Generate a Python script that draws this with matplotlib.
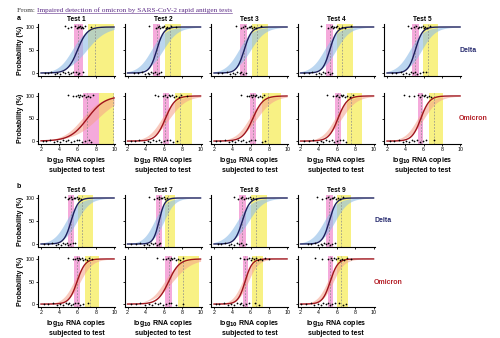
import numpy as np
import matplotlib.pyplot as plt
from matplotlib.lines import Line2D

plt.rcParams['font.family'] = ['Liberation Sans', 'DejaVu Sans']

tests = ['Test 1', 'Test 2', 'Test 3', 'Test 4', 'Test 5',
         'Test 6', 'Test 7', 'Test 8', 'Test 9']

# fitted logistic curves: 50% point and slope per test
delta_mid = [6.0, 5.2, 5.3, 5.2, 5.1, 5.3, 5.45, 5.1, 5.15]
delta_slope = [1.9, 2.6, 2.5, 2.6, 2.6, 2.6, 3.2, 2.5, 2.7]
omicron_mid = [7.07, 6.15, 6.25, 6.1, 5.7, 5.95, 6.5, 5.4, 5.25]
omicron_slope = [1.05, 1.9, 1.8, 2.0, 2.1, 2.3, 1.7, 2.6, 2.4]

# 95% confidence band, upper and lower logistic edges
delta_ci_hi_mid = [5.4, 4.6, 4.7, 4.6, 4.5, 4.75, 4.95, 4.55, 4.6]
delta_ci_hi_slope = [1.3, 1.35, 1.35, 1.35, 1.35, 1.4, 1.6, 1.3, 1.4]
delta_ci_lo_mid = [7.0, 5.9, 6.0, 5.9, 5.8, 5.95, 6.0, 5.8, 5.8]
delta_ci_lo_slope = [0.95, 1.25, 1.25, 1.35, 1.35, 1.4, 1.7, 1.25, 1.4]
omicron_ci_hi_mid = [6.5, 5.75, 5.85, 5.75, 5.35, 5.6, 6.05, 5.1, 4.95]
omicron_ci_hi_slope = [0.95, 1.3, 1.3, 1.4, 1.4, 1.6, 1.25, 1.8, 1.7]
omicron_ci_lo_mid = [8.2, 6.6, 6.7, 6.5, 6.05, 6.3, 6.95, 5.75, 5.6]
omicron_ci_lo_slope = [0.75, 1.1, 1.1, 1.2, 1.25, 1.5, 0.95, 1.8, 1.7]

# LOD50 / LOD95 confidence intervals and LOD95 estimates
delta_lod50_ci = [(5.6, 6.6), (4.76, 5.56), (4.85, 5.66), (4.79, 5.6), (4.7, 5.54),
                  (4.92, 5.65), (5.1, 5.75), (4.75, 5.5), (4.79, 5.52)]
delta_lod95_ci = [(7.1, 10.0), (6.05, 7.9), (6.2, 7.96), (6.0, 7.76), (5.98, 7.63),
                  (6.05, 7.66), (6.05, 7.2), (6.05, 7.79), (5.98, 7.48)]
delta_lod95 = [7.9, 6.7, 6.75, 6.57, 6.46, 6.5, 6.4, 6.58, 6.39]
omicron_lod50_ci = [(6.57, 8.39), (5.84, 6.54), (5.92, 6.65), (5.82, 6.45), (5.4, 5.98),
                    (5.64, 6.24), (6.11, 6.9), (5.13, 5.68), (4.98, 5.52)]
omicron_lod95_ci = [(8.39, 10.0), (7.24, 9.1), (7.25, 9.3), (7.1, 8.75), (6.64, 8.15),
                    (6.82, 8.33), (7.53, 9.86), (6.2, 7.34), (5.95, 7.25)]
omicron_lod95 = [9.86, 7.77, 7.9, 7.57, 7.12, 7.37, 8.08, 6.58, 6.39]

# log10 RNA copies of positive / negative test results
delta_pos = [
    [4.6, 5.0, 5.3, 5.7, 5.9, 6.0, 6.2, 6.3, 6.4, 6.5, 6.6, 6.8, 7.5],
    [4.3, 5.1, 5.3, 5.5, 5.6, 5.8, 5.9, 6.0, 6.2, 6.3, 6.5, 6.8, 7.3],
    [4.4, 4.9, 5.2, 5.4, 5.6, 5.8, 5.9, 6.1, 6.2, 6.4, 6.6, 7.1],
    [4.2, 5.0, 5.3, 5.4, 5.6, 5.7, 5.9, 6.0, 6.2, 6.5, 6.9, 7.5],
    [4.3, 4.6, 5.0, 5.2, 5.4, 5.5, 5.7, 5.9, 6.0, 6.2, 6.4, 6.7],
    [4.6, 4.9, 5.1, 5.3, 5.4, 5.6, 5.7, 5.9, 6.0, 6.2, 6.4],
    [4.4, 4.9, 5.2, 5.4, 5.5, 5.7, 5.8, 6.0, 6.1, 6.3],
    [4.2, 4.6, 4.9, 5.1, 5.3, 5.5, 5.7, 5.9, 6.1, 6.3, 6.6],
    [3.8, 4.4, 4.8, 5.0, 5.2, 5.4, 5.6, 5.7, 5.9, 6.1, 6.3, 6.7],
]
delta_neg = [
    [2.4, 2.8, 3.1, 3.5, 3.8, 4.1, 4.4, 4.6, 4.9, 5.1, 5.3, 5.5, 5.8, 6.0, 6.2, 6.6],
    [2.7, 3.2, 3.6, 3.9, 4.2, 4.4, 4.6, 4.8, 5.0, 5.2, 5.4, 5.7],
    [2.4, 2.9, 3.4, 3.8, 4.1, 4.3, 4.5, 4.8, 5.0, 5.2, 5.5],
    [2.4, 2.9, 3.3, 3.7, 4.0, 4.2, 4.5, 4.7, 5.0, 5.2, 5.5],
    [2.5, 3.0, 3.5, 3.8, 4.1, 4.4, 4.6, 4.8, 5.1, 5.3, 5.6, 5.9, 6.3],
    [2.3, 2.8, 3.2, 3.6, 3.9, 4.2, 4.4, 4.6, 4.8, 5.0, 5.2, 5.5, 5.7],
    [2.4, 2.9, 3.4, 3.8, 4.1, 4.4, 4.6, 4.8, 5.0, 5.2, 5.4, 5.6],
    [2.4, 2.8, 3.2, 3.6, 3.9, 4.2, 4.5, 4.7, 5.0, 5.2, 5.5],
    [2.8, 3.2, 3.6, 3.9, 4.2, 4.4, 4.6, 4.8, 5.0, 5.2, 5.4, 5.8],
]
omicron_pos = [
    [5.0, 5.5, 5.8, 6.0, 6.2, 6.3, 6.5, 6.7, 6.9, 7.1, 7.4, 7.7],
    [5.0, 5.3, 5.9, 6.1, 6.3, 6.5, 6.7, 6.9, 7.1, 7.3, 7.6, 7.9, 8.5],
    [5.0, 5.6, 5.8, 6.0, 6.2, 6.3, 6.5, 6.6, 6.8, 7.0, 7.2, 7.5],
    [4.9, 5.6, 5.9, 6.0, 6.2, 6.4, 6.5, 6.7, 6.9, 7.1, 7.4, 7.8],
    [3.9, 4.4, 5.0, 5.4, 5.6, 5.8, 6.0, 6.2, 6.4, 6.6, 6.8],
    [5.0, 5.5, 5.7, 5.9, 6.0, 6.2, 6.3, 6.5, 6.6, 6.8, 7.0, 7.3, 7.6],
    [5.2, 5.9, 6.2, 6.4, 6.6, 6.8, 6.9, 7.1, 7.3, 7.5, 7.8, 8.1],
    [4.8, 5.3, 5.6, 5.8, 6.0, 6.2, 6.4, 6.6, 6.8, 7.0, 7.3, 7.6, 8.0],
    [3.6, 4.4, 5.0, 5.3, 5.5, 5.7, 5.9, 6.1, 6.3, 6.5, 6.8, 7.1, 7.5],
]
omicron_neg = [
    [2.2, 2.6, 3.0, 3.4, 3.8, 4.1, 4.4, 4.7, 5.0, 5.3, 5.6, 5.9, 6.2, 6.5, 6.8, 7.2, 7.5],
    [2.4, 2.8, 3.3, 3.8, 4.2, 4.5, 4.8, 5.1, 5.4, 5.7, 6.0, 6.3, 6.6, 7.0, 7.4],
    [2.2, 2.7, 3.2, 3.6, 4.0, 4.3, 4.6, 4.9, 5.2, 5.5, 5.8, 6.1, 6.5, 7.2, 7.6],
    [2.4, 2.9, 3.4, 3.8, 4.2, 4.5, 4.8, 5.1, 5.4, 5.7, 6.0, 6.3, 6.7, 7.0],
    [2.3, 2.8, 3.3, 3.7, 4.1, 4.4, 4.7, 5.0, 5.3, 5.6, 5.9, 6.3, 7.1],
    [2.3, 2.8, 3.3, 3.7, 4.1, 4.4, 4.7, 4.9, 5.1, 5.3, 5.5, 5.7, 6.0, 6.3, 6.6, 7.1],
    [2.4, 2.9, 3.4, 3.9, 4.3, 4.7, 5.0, 5.3, 5.6, 5.9, 6.2, 6.5, 6.8, 7.3, 8.1],
    [2.2, 2.6, 3.1, 3.5, 3.9, 4.2, 4.5, 4.8, 5.0, 5.2, 5.5, 5.8, 6.5, 6.9],
    [2.1, 2.6, 3.1, 3.5, 3.9, 4.2, 4.5, 4.8, 5.0, 5.2, 5.5, 5.8, 6.2, 6.6, 7.0],
]

x_ticks = [2, 4, 6, 8, 10]
y_ticks = [0, 50, 100]

# vertical scatter of the result dots around 0 and 100
JITTER = [1.8, -1.2, 0.4, 2.6, -2.2, 1.0, -0.4, 2.2, -1.8, 0.8, -2.6, 1.4, -0.8, 2.0, -1.4, 0.2, 2.4]

variants = {
    'delta': dict(mid=delta_mid, slope=delta_slope,
                  hi_mid=delta_ci_hi_mid, hi_slope=delta_ci_hi_slope,
                  lo_mid=delta_ci_lo_mid, lo_slope=delta_ci_lo_slope,
                  lod50_ci=delta_lod50_ci, lod95_ci=delta_lod95_ci, lod95=delta_lod95,
                  pos=delta_pos, neg=delta_neg,
                  line='#1b1f5c', band='#8fbce6', band_alpha=0.6),
    'omicron': dict(mid=omicron_mid, slope=omicron_slope,
                    hi_mid=omicron_ci_hi_mid, hi_slope=omicron_ci_hi_slope,
                    lo_mid=omicron_ci_lo_mid, lo_slope=omicron_ci_lo_slope,
                    lod50_ci=omicron_lod50_ci, lod95_ci=omicron_lod95_ci, lod95=omicron_lod95,
                    pos=omicron_pos, neg=omicron_neg,
                    line='#a0141c', band='#f5a08a', band_alpha=0.55),
}

PINK = '#f5aadb'
YELLOW = '#f8f184'
X_MAX = 10.0


def logistic(x, mid, k):
    return 100.0 / (1.0 + np.exp(-k * (x - mid)))


W, H = 500, 338
fig = plt.figure(figsize=(W / 100, H / 100), dpi=100)

col_left = [38, 124.5, 211, 297.5, 384]
ax_w = 77
# (top, bottom) in pixels for each row: a-delta, a-omicron, b-delta, b-omicron
rows = [(24, 76), (93, 144), (195, 247), (256, 307)]
layout = [('delta', 0, [0, 1, 2, 3, 4], True, False),
          ('omicron', 1, [0, 1, 2, 3, 4], False, True),
          ('delta', 2, [5, 6, 7, 8], True, False),
          ('omicron', 3, [5, 6, 7, 8], False, True)]

xs = np.linspace(2, X_MAX, 200)

for variant, r, idxs, titled, xlab in layout:
    v = variants[variant]
    top, bot = rows[r]
    for col, i in enumerate(idxs):
        first = col == 0
        ax = fig.add_axes([col_left[col] / W, 1 - bot / H, ax_w / W, (bot - top) / H])
        lo50, hi50 = v['lod50_ci'][i]
        lo95, hi95 = v['lod95_ci'][i]
        ax.axvspan(lo50, hi50, color=PINK, lw=0, zorder=1)
        ax.axvspan(lo95, min(hi95, X_MAX), color=YELLOW, lw=0, zorder=1)
        upper = logistic(xs, v['hi_mid'][i], v['hi_slope'][i])
        lower = logistic(xs, v['lo_mid'][i], v['lo_slope'][i])
        ax.fill_between(xs, lower, upper, color=v['band'], alpha=v['band_alpha'],
                        lw=0, zorder=2)
        for xd in (v['mid'][i], v['lod95'][i]):
            ax.axvline(xd, color='#8a8a8a', lw=0.5, ls=(0, (2.5, 2)), zorder=3)
        ax.plot(xs, logistic(xs, v['mid'][i], v['slope'][i]), color=v['line'],
                lw=1.0, zorder=4)
        pos = v['pos'][i]
        neg = v['neg'][i]
        ax.scatter(pos, [100 + JITTER[j % len(JITTER)] for j in range(len(pos))],
                   s=1.6, color='black', lw=0, zorder=5)
        ax.scatter(neg, [JITTER[(j + 5) % len(JITTER)] for j in range(len(neg))],
                   s=1.6, color='black', lw=0, zorder=5)

        ax.set_xlim(1.67, 10.1)
        ax.set_ylim(-6.5, 106.5)
        for side in ('top', 'right'):
            ax.spines[side].set_visible(False)
        for side in ('left', 'bottom'):
            ax.spines[side].set_linewidth(0.8)
        ax.set_xticks(x_ticks)
        ax.set_yticks(y_ticks)
        ax.tick_params(length=1.5, width=0.6, pad=0.8, labelsize=3.8,
                       labelleft=first, labelbottom=xlab)
        if first:
            ax.set_ylabel('Probability (%)', fontsize=5, fontweight='bold', labelpad=1)
        if xlab:
            ax.set_xlabel('log$_{\\mathbf{10}}$ RNA copies\nsubjected to test',
                          fontsize=5, fontweight='bold', labelpad=2, linespacing=1.3)
        if titled:
            ax.set_title(tests[i], fontsize=4.8, fontweight='bold', pad=2.5)

# variant labels on the right of each row
fig.text(468 / W, 1 - 50 / H, 'Delta', color='#262a6e', fontsize=5, fontweight='bold',
         ha='center', va='center')
fig.text(473 / W, 1 - 119 / H, 'Omicron', color='#b5222a', fontsize=5, fontweight='bold',
         ha='center', va='center')
fig.text(383 / W, 1 - 221 / H, 'Delta', color='#262a6e', fontsize=5, fontweight='bold',
         ha='center', va='center')
fig.text(388 / W, 1 - 283 / H, 'Omicron', color='#b5222a', fontsize=5, fontweight='bold',
         ha='center', va='center')

fig.text(17 / W, 1 - 19 / H, 'a', fontsize=5, fontweight='bold', va='center')
fig.text(17 / W, 1 - 186 / H, 'b', fontsize=5, fontweight='bold', va='center')

# source line with an underlined link
src = fig.text(17 / W, 1 - 10 / H, 'From: ', fontsize=5.2, family='Liberation Serif',
               color='#333333', va='center')
fig.canvas.draw()
bb = src.get_window_extent()
link = fig.text(bb.x1 / W, 1 - 10 / H,
                'Impaired detection of omicron by SARS-CoV-2 rapid antigen tests',
                fontsize=5.2, family='Liberation Serif', color='#5b2a86', va='center')
fig.canvas.draw()
lb = link.get_window_extent()
fig.add_artist(Line2D([lb.x0 / W, lb.x1 / W], [(lb.y0 - 0.5) / H] * 2, color='#5b2a86',
                      lw=0.4))

fig.savefig('out.png', dpi=100)
